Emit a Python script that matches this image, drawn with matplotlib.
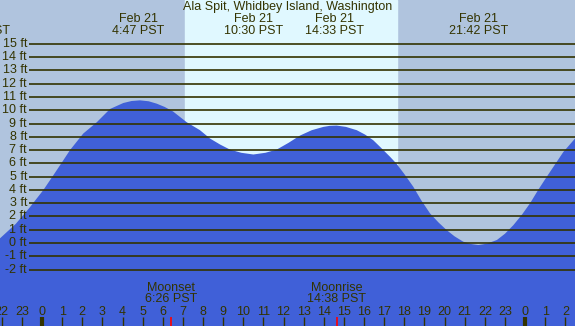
import matplotlib
matplotlib.use("Agg")
from matplotlib import pyplot as plt
from matplotlib import transforms as mtransforms

plt.rcParams['font.family'] = ['Liberation Sans', 'DejaVu Sans']

title = "Ala Spit, Whidbey Island, Washington"

# tide height (ft), hours from midnight Feb 21
hours = [-2.09, -1.3, -0.6, 0.07, 0.56, 1.0, 1.39, 2.05, 2.72, 3.38, 4.04,
         4.45, 4.87, 5.3, 5.7, 6.1, 6.52, 7.19, 7.85, 8.35, 8.85, 9.34, 9.9,
         10.5, 11.1, 11.66, 12.25, 12.82, 13.4, 13.98, 14.3, 14.64, 15.1,
         15.64, 16.05, 16.46, 16.8, 17.29, 17.6, 18.0, 18.45, 18.85, 19.28,
         19.7, 20.1, 20.5, 20.93, 21.3, 21.68, 22.1, 22.6, 23.0, 23.42, 23.85,
         24.25, 24.65, 25.08, 25.5, 25.9, 26.48]
heights = [0.35, 1.45, 2.7, 4.0, 5.1, 6.1, 7.0, 8.25, 9.1, 10.1, 10.55,
           10.7, 10.75, 10.68, 10.5, 10.25, 9.9, 9.1, 8.5, 7.87, 7.42, 7.04, 6.8,
           6.67, 6.8, 7.04, 7.55, 8.1, 8.5, 8.75, 8.83, 8.85, 8.75,
           8.5, 8.17, 7.74, 7.24, 6.5, 6.0, 5.2, 4.23, 3.2, 2.23,
           1.55, 0.98, 0.5, 0.1, -0.07, -0.15, -0.05, 0.23, 0.7, 1.35, 2.15,
           3.0, 4.0, 5.0, 5.95, 6.86, 7.87]

# high / low tide labels
tide_hours = [-3.08, 4.78, 10.5, 14.55, 21.7]
tide_dates = ["Feb 20", "Feb 21", "Feb 21", "Feb 21", "Feb 21"]
tide_times = ["20:55 PST", "4:47 PST", "10:30 PST", "14:33 PST", "21:42 PST"]

sunrise = 7.1
sunset = 17.64

moon_hours = [6.433, 14.633]
moon_names = ["Moonset", "Moonrise"]
moon_times = ["6:26 PST", "14:38 PST"]

levels = list(range(-2, 16))
hour_ticks = list(range(-2, 27))
hour_labels = [str(h % 24) for h in hour_ticks]

night = "#b0c4de"
day = "#e0f8ff"
water = "#4060d8"
ink = "#333300"

x0, x1 = -2.087, 26.48
y0, y1 = -6.25, 18.31

fig = plt.figure(figsize=(5.75, 3.26), dpi=100)
ax = fig.add_axes([0, 0, 1, 1])
ax.set_xlim(x0, x1)
ax.set_ylim(y0, y1)
ax.axis("off")
ax.set_facecolor(night)
fig.patch.set_facecolor(night)

ax.axvspan(sunrise, sunset, color=day, zorder=0)
ax.fill_between(hours, heights, y0, color=water, zorder=1, lw=0)

ax.hlines(levels, -0.646, x1, color=ink, lw=1.2, zorder=2)
for lv in levels:
    ax.text(-0.745, lv, "%d ft" % lv, ha="right", va="center",
            fontsize=9, color=ink, zorder=3)

tr = mtransforms.blended_transform_factory(ax.transData, ax.transAxes)

ax.text(12.2, 0.979, title, transform=tr, ha="center", va="center",
        fontsize=9, color=ink)
for h, d, t in zip(tide_hours, tide_dates, tide_times):
    ax.text(h, 0.941, d, transform=tr, ha="center", va="center",
            fontsize=9, color=ink)
    ax.text(h, 0.904, t, transform=tr, ha="center", va="center",
            fontsize=9, color=ink)

for h, n, t in zip(moon_hours, moon_names, moon_times):
    ax.text(h, 0.117, n, transform=tr, ha="center", va="center",
            fontsize=9, color=ink)
    ax.text(h, 0.082, t, transform=tr, ha="center", va="center",
            fontsize=9, color=ink)
    ax.vlines(h, 0, 0.0276, transform=tr, color="red", lw=1.2, zorder=4)

for h, lab in zip(hour_ticks, hour_labels):
    ax.text(h, 0.043, lab, transform=tr, ha="center", va="center",
            fontsize=9, color=ink)
    w = 3 if h % 24 == 0 else 1
    ax.vlines(h, 0, 0.0276, transform=tr, color=ink, lw=w, zorder=4)

fig.savefig("out.png", dpi=100, facecolor=night)
